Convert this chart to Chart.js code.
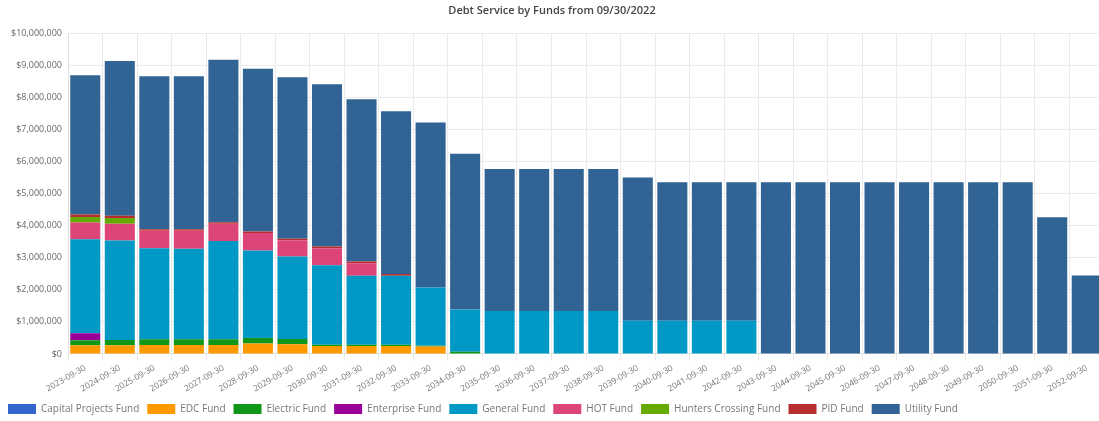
<!DOCTYPE html>
<html>
<head>
<meta charset="utf-8">
<script src="https://cdn.jsdelivr.net/npm/chart.js@4/dist/chart.umd.min.js"></script>
<style>
  html, body { margin: 0; padding: 0; overflow: hidden; background: #fff; }
  #wrap { width: 1121px; height: 424px; position: relative; }
</style>
</head>
<body>
<div id="wrap"><canvas id="c"></canvas></div>
<script>
const categories = ["2023-09-30","2024-09-30","2025-09-30","2026-09-30","2027-09-30","2028-09-30","2029-09-30","2030-09-30","2031-09-30","2032-09-30","2033-09-30","2034-09-30","2035-09-30","2036-09-30","2037-09-30","2038-09-30","2039-09-30","2040-09-30","2041-09-30","2042-09-30","2043-09-30","2044-09-30","2045-09-30","2046-09-30","2047-09-30","2048-09-30","2049-09-30","2050-09-30","2051-09-30","2052-09-30"];

const capitalProjectsFund = [0,0,0,0,0,0,0,0,0,0,0,0,0,0,0,0,0,0,0,0,0,0,0,0,0,0,0,0,0,0];
const edcFund = [270000,270000,280000,280000,280000,330000,300000,250000,250000,250000,230000,0,0,0,0,0,0,0,0,0,0,0,0,0,0,0,0,0,0,0];
const electricFund = [160000,170000,180000,180000,180000,170000,170000,40000,40000,40000,30000,70000,0,0,0,0,0,0,0,0,0,0,0,0,0,0,0,0,0,0];
const enterpriseFund = [220000,0,0,0,0,0,0,0,0,0,0,0,0,0,0,0,0,0,0,0,0,0,0,0,0,0,0,0,0,0];
const generalFund = [2930000,3100000,2840000,2820000,3060000,2730000,2570000,2480000,2150000,2150000,1810000,1320000,1340000,1340000,1340000,1340000,1040000,1040000,1040000,1040000,0,0,0,0,0,0,0,0,0,0];
const hotFund = [520000,520000,540000,560000,540000,540000,500000,530000,390000,0,0,0,0,0,0,0,0,0,0,0,0,0,0,0,0,0,0,0,0,0];
const huntersCrossingFund = [170000,180000,0,0,0,0,0,0,0,0,0,0,0,0,0,0,0,0,0,0,0,0,0,0,0,0,0,0,0,0];
const pidFund = [80000,70000,50000,50000,50000,50000,50000,50000,50000,50000,0,0,0,0,0,0,0,0,0,0,0,0,0,0,0,0,0,0,0,0];
const utilityFund = [4340000,4820000,4770000,4770000,5060000,5070000,5040000,5060000,5060000,5080000,5150000,4850000,4430000,4430000,4430000,4430000,4460000,4310000,4310000,4310000,5350000,5350000,5350000,5350000,5350000,5350000,5350000,5350000,4260000,2450000];

const yTicks = [0,1000000,2000000,3000000,4000000,5000000,6000000,7000000,8000000,9000000,10000000];

const seriesNames = ["Capital Projects Fund","EDC Fund","Electric Fund","Enterprise Fund","General Fund","HOT Fund","Hunters Crossing Fund","PID Fund","Utility Fund"];
const seriesData = [capitalProjectsFund, edcFund, electricFund, enterpriseFund, generalFund, hotFund, huntersCrossingFund, pidFund, utilityFund];
const seriesColors = ["#3366cc","#ff9900","#109618","#990099","#0099c6","#dd4477","#66aa00","#b82e2e","#316395"];

const FONT = "'Open Sans', 'DejaVu Sans', sans-serif";

const datasets = seriesNames.map((name, i) => ({
  label: name,
  data: seriesData[i],
  backgroundColor: seriesColors[i],
  borderColor: seriesColors[i],
  borderWidth: 0,
  categoryPercentage: 1.0,
  barPercentage: 0.87
}));

new Chart(document.getElementById('c'), {
  type: 'bar',
  data: { labels: categories, datasets },
  options: {
    responsive: true,
    maintainAspectRatio: false,
    animation: false,
    layout: { padding: { left: 0, right: 17, top: 0, bottom: 0 } },
    plugins: {
      title: {
        display: true,
        text: 'Debt Service by Funds from 09/30/2022',
        color: '#444',
        font: { family: FONT, size: 11, weight: '600' },
        padding: { top: 4, bottom: 16 }
      },
      legend: {
        position: 'bottom',
        align: 'start',
        labels: {
          color: '#777',
          font: { family: FONT, size: 10 },
          boxWidth: 28,
          boxHeight: 10,
          padding: 8
        }
      },
      tooltip: { enabled: false }
    },
    scales: {
      x: {
        stacked: true,
        grid: { color: '#ebebeb', offset: true, drawTicks: true, tickLength: 7 },
        border: { color: '#e0e0e0' },
        ticks: {
          color: '#777',
          font: { family: FONT, size: 8.5 },
          minRotation: 30,
          maxRotation: 30,
          autoSkip: false,
          padding: 2
        }
      },
      y: {
        stacked: true,
        min: 0,
        max: 10000000,
        afterBuildTicks: (scale) => { scale.ticks = yTicks.map(v => ({ value: v })); },
        afterFit: (scale) => { scale.width = 68; },
        grid: { color: '#ebebeb', drawTicks: false },
        border: { color: '#e0e0e0' },
        ticks: {
          color: '#666',
          font: { family: FONT, size: 9 },
          padding: 6,
          callback: (v) => '$' + Number(v).toLocaleString('en-US')
        }
      }
    }
  }
});
</script>
</body>
</html>
